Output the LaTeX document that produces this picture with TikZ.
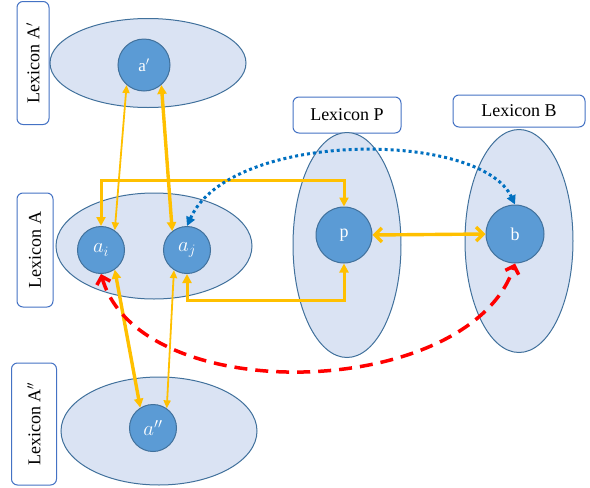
\documentclass[tikz,border=0pt]{standalone}
\usepackage{fontspec}
\setmainfont{Liberation Serif}
\usetikzlibrary{shapes.geometric,arrows.meta}
\definecolor{ellfill}{HTML}{DAE3F3}
\definecolor{ellline}{HTML}{41719C}
\definecolor{circfill}{HTML}{5B9BD5}
\definecolor{boxline}{HTML}{4472C4}
\definecolor{orng}{HTML}{FFC000}
\definecolor{bluedot}{HTML}{0070C0}
\definecolor{reddash}{HTML}{FF0000}
\tikzset{
  lex/.style={ellipse, draw=ellline, fill=ellfill, line width=1pt, inner sep=0pt},
  item/.style={circle, draw=ellline, fill=circfill, line width=1pt, inner sep=0pt, text=white, font=\fontsize{18}{20}\selectfont},
  mathitem/.style={item, font=\fontsize{21}{23}\selectfont},
  lbl/.style={rectangle, rounded corners=6pt, draw=boxline, fill=white, line width=1pt, inner sep=0pt, font=\fontsize{18}{20}\selectfont},
  thinarr/.style={orng, line width=1.8pt, {Triangle[length=8pt,width=7pt]}-{Triangle[length=8pt,width=7pt]}},
  thickarr/.style={orng, line width=3.4pt, {Triangle[length=9pt,width=9pt]}-{Triangle[length=9pt,width=9pt]}},
  elbowarr/.style={orng, line width=3pt, {Triangle[length=9pt,width=9pt]}-{Triangle[length=9pt,width=9pt]}},
  chevarr/.style={orng, line width=3.4pt, {Straight Barb[length=7pt,width=14pt]}-{Straight Barb[length=7pt,width=14pt]}},
}
\begin{document}
\begin{tikzpicture}[x=1pt,y=-1pt]
\useasboundingbox (0,0) rectangle (590,488);
% label boxes
\node[lbl, rotate=90, minimum width=123pt, minimum height=32pt] (lAp) at (33,63) {Lexicon A$'$};
\node[lbl, rotate=90, minimum width=114pt, minimum height=36pt] (lA) at (35,250) {Lexicon A};
\node[lbl, rotate=90, minimum width=122pt, minimum height=45pt] (lApp) at (34,424) {Lexicon A$''$};
\node[lbl, minimum width=108pt, minimum height=36pt] (lP) at (347,115) {Lexicon P};
\node[lbl, minimum width=132pt, minimum height=32pt] (lB) at (519,111) {Lexicon B};
% lexicon ellipses
\node[lex, minimum width=196pt, minimum height=89pt] (EAp) at (148,63) {};
\node[lex, minimum width=196pt, minimum height=106pt] (EA) at (154,246) {};
\node[lex, minimum width=196pt, minimum height=108pt] (EApp) at (159,431) {};
\node[lex, minimum width=108pt, minimum height=225pt] (EP) at (347,245) {};
\node[lex, minimum width=108pt, minimum height=223pt] (EB) at (519,241) {};
% items
\node[item, minimum size=52pt, font=\fontsize{17}{19}\selectfont] (ap) at (144,65) {a$'$};
\node[mathitem, minimum size=47pt] (ai) at (101,250) {$a_i$};
\node[mathitem, minimum size=47pt] (aj) at (187,250) {$a_j$};
\node[mathitem, minimum size=47pt] (app) at (153,428) {$a''$};
\node[item, minimum size=56pt] (p) at (344,235) {p};
\node[item, minimum size=58pt] (b) at (515,234) {b};
% coordinates for elbows
\coordinate (topbar) at (0,180);
\coordinate (botbar) at (0,300);
% connectors
\draw[thinarr] (ap.229) -- (ai.55);
\draw[thickarr] (ap.311) -- (aj.128);
\draw[thickarr] (ai.305) -- (app.122);
\draw[thinarr] (aj.237) -- (app.55);
\draw[elbowarr] (ai.north) -- (ai.north |- topbar) -- (p.north |- topbar) -- (p.north);
\draw[elbowarr] (aj.south) -- (aj.south |- botbar) -- (p.south |- botbar) -- (p.south);
\draw[chevarr] (p.east) -- (b.west);
\draw[bluedot, line width=3pt, dash pattern=on 3pt off 3pt, {Triangle[length=9pt,width=9pt]}-{Triangle[length=9pt,width=9pt]}]
  (aj.north) .. controls (230,130) and (480,130) .. (b.north);
\draw[reddash, line width=3.5pt, dash pattern=on 13pt off 8pt, {Straight Barb[length=7pt,width=14pt]}-{Straight Barb[length=7pt,width=14pt]}]
  (ai.south) .. controls (140,410) and (470,400) .. (b.south);
\end{tikzpicture}
\end{document}
